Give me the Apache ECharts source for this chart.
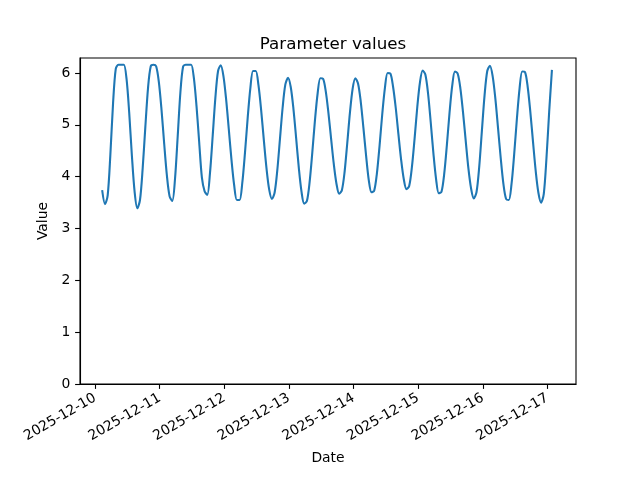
<!DOCTYPE html>
<html><head><meta charset="utf-8">
<script src="https://cdn.jsdelivr.net/npm/echarts@6/dist/echarts.min.js"></script>
<style>html,body{margin:0;padding:0;background:#fff}#c{width:640px;height:480px}</style>
</head><body><div id="c"></div>
<script>
const titleText = 'Parameter values';
const xName = 'Date';
const yName = 'Value';
// hourly readings starting at this time (UTC)
const startTime = '2025-12-10T02:40:00Z';
const stepMinutes = 60;
const values = [
  3.72, 3.47, 3.64, 4.43, 5.42, 6.08, 6.16, 6.16, 6.16, 5.89, 5.23, 4.40, 3.71, 3.39, 3.55, 4.16,
  4.97, 5.72, 6.13, 6.16, 6.13, 5.83, 5.29, 4.63, 4.02, 3.62, 3.53, 3.95, 4.77, 5.62, 6.12, 6.16,
  6.16, 6.16, 5.91, 5.36, 4.66, 3.98, 3.72, 3.65, 4.07, 4.78, 5.52, 6.04, 6.15, 5.94, 5.49, 4.91,
  4.32, 3.83, 3.55, 3.55, 3.88, 4.46, 5.13, 5.71, 6.04, 6.04, 5.77, 5.29, 4.71, 4.16, 3.75, 3.57,
  3.69, 4.12, 4.73, 5.34, 5.78, 5.91, 5.73, 5.31, 4.75, 4.17, 3.71, 3.48, 3.53, 3.89, 4.46, 5.09,
  5.61, 5.90, 5.89, 5.65, 5.23, 4.73, 4.24, 3.86, 3.67, 3.74, 4.09, 4.65, 5.24, 5.70, 5.90, 5.80,
  5.45, 4.94, 4.40, 3.93, 3.70, 3.73, 4.06, 4.60, 5.21, 5.72, 6.00, 5.99, 5.74, 5.33, 4.82, 4.33,
  3.95, 3.76, 3.82, 4.18, 4.73, 5.34, 5.82, 6.05, 5.97, 5.61, 5.05, 4.45, 3.95, 3.68, 3.71, 4.05,
  4.61, 5.24, 5.76, 6.03, 5.99, 5.71, 5.24, 4.69, 4.16, 3.77, 3.58, 3.70, 4.18, 4.88, 5.57, 6.04,
  6.14, 5.94, 5.51, 4.94, 4.36, 3.86, 3.57, 3.55, 3.85, 4.43, 5.11, 5.70, 6.03, 6.02, 5.74, 5.25,
  4.67, 4.11, 3.69, 3.50, 3.67, 4.36, 5.25, 6.04
];
const dayTicks = ['2025-12-10','2025-12-11','2025-12-12','2025-12-13','2025-12-14','2025-12-15','2025-12-16','2025-12-17'];
const yTicks = [0, 1, 2, 3, 4, 5, 6];
const xMin = '2025-12-09T18:23:00Z';
const xMax = '2025-12-17T10:38:00Z';
const yMin = 0, yMax = 6.29;

const t0 = Date.parse(startTime);
const seriesData = values.map((v, i) => [t0 + i * stepMinutes * 60000, v]);
const dayTickMs = dayTicks.map(d => Date.parse(d + 'T00:00:00Z'));
const pad = n => String(n).padStart(2, '0');
const fmtDay = ms => { const d = new Date(ms); return d.getUTCFullYear() + '-' + pad(d.getUTCMonth() + 1) + '-' + pad(d.getUTCDate()); };

const font = 'DejaVu Sans';
const chart = echarts.init(document.getElementById('c'), null, {renderer: 'canvas'});
chart.setOption({
  animation: false,
  backgroundColor: '#ffffff',
  title: {
    text: titleText, left: 328, top: 31, textAlign: 'center',
    textStyle: {fontFamily: font, fontSize: 16.7, fontWeight: 'normal', color: '#000'}
  },
  grid: {left: 80, right: 64, top: 58, bottom: 96, show: true, borderColor: '#000', borderWidth: 1.1, backgroundColor: 'transparent'},
  xAxis: {
    type: 'value', min: Date.parse(xMin), max: Date.parse(xMax), scale: true,
    name: xName, nameLocation: 'middle', nameGap: 67,
    nameTextStyle: {fontFamily: font, fontSize: 13.9, color: '#000'},
    axisLine: {show: true, onZero: false, lineStyle: {color: '#000', width: 1.1}},
    axisTick: {show: true, length: 4.9, customValues: dayTickMs, lineStyle: {color: '#000', width: 1.1}},
    axisLabel: {customValues: dayTickMs, rotate: 30, margin: 13, fontFamily: font, fontSize: 13.9, color: '#000',
      formatter: v => fmtDay(v), hideOverlap: false},
    splitLine: {show: false}, minorTick: {show: false}
  },
  yAxis: {
    type: 'value', min: yMin, max: yMax,
    name: yName, nameLocation: 'middle', nameGap: 24,
    nameTextStyle: {fontFamily: font, fontSize: 13.9, color: '#000'},
    axisLine: {show: true, lineStyle: {color: '#000', width: 1.1}},
    axisTick: {show: true, length: 4.9, customValues: yTicks, lineStyle: {color: '#000', width: 1.1}},
    axisLabel: {customValues: yTicks, margin: 9.7, fontFamily: font, fontSize: 13.9, color: '#000'},
    splitLine: {show: false}
  },
  series: [{
    type: 'line', data: seriesData, showSymbol: false, symbol: 'none', smooth: 0.3,
    lineStyle: {color: '#1f77b4', width: 2.1, cap: 'square', join: 'round'}
  }]
});
</script>
</body></html>
